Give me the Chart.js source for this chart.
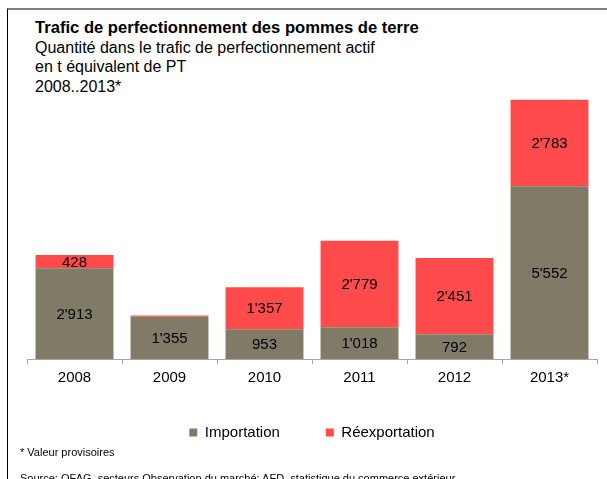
<!DOCTYPE html>
<html>
<head>
<meta charset="utf-8">
<script src="https://cdn.jsdelivr.net/npm/chart.js@4"></script>
<style>
    body { margin: 0; background: #fff; font-family: "Liberation Sans", Arial, sans-serif; }
    #wrap { position: relative; width: 607px; height: 479px; overflow: hidden; }
    #frame { position: absolute; left: 7px; top: 8px; width: 600px; height: 480px;
             border-top: 2px solid #7f7f7f; border-left: 1px solid #000; box-sizing: border-box; }
    #head { position: absolute; left: 35px; top: 18px; font-size: 16px; line-height: 19.5px; color: #000; }
    #head b { font-size: 16.6px; }
    .note { position: absolute; left: 20px; font-size: 11px; color: #000; }
    canvas { position: absolute; left: 0; top: 0; }
</style>
</head>
<body>
<div id="wrap">
    <div id="frame"></div>
    <div id="head">
        <b>Trafic de perfectionnement des pommes de terre</b><br>
        Quantité dans le trafic de perfectionnement actif<br>
        en t équivalent de PT<br>
        2008..2013*
    </div>
    <canvas id="myChart" width="607" height="479"></canvas>
    <div class="note" style="top:446px">* Valeur provisoires</div>
    <div class="note" style="top:472px">Source: OFAG, secteurs Observation du marché; AFD, statistique du commerce extérieur</div>
</div>
<script>
const years = ["2008", "2009", "2010", "2011", "2012", "2013*"];
const importation = [2913, 1355, 953, 1018, 792, 5552];
const reexportation = [428, 45, 1357, 2779, 2451, 2783];

function fmt(n) {
    return String(n).replace(/\B(?=(\d{3})+(?!\d))/g, "'");
}

// labels in the middle of each segment, skipped when the segment is too thin
const segmentLabels = {
    id: "segmentLabels",
    afterDatasetsDraw(chart) {
        const ctx = chart.ctx;
        ctx.save();
        ctx.font = "15px 'Liberation Sans', Arial, sans-serif";
        ctx.fillStyle = "#000";
        ctx.textAlign = "center";
        ctx.textBaseline = "middle";
        chart.data.datasets.forEach((ds, i) => {
            chart.getDatasetMeta(i).data.forEach((bar, j) => {
                if (Math.abs(bar.base - bar.y) < 12) return;
                ctx.fillText(fmt(ds.data[j]), bar.x, (bar.y + bar.base) / 2 + 1);
            });
        });
        ctx.restore();
    },
};

// pull the legend a bit closer to the axis than the layout puts it
const legendShift = {
    id: "legendShift",
    afterLayout(chart) {
        chart.legend.top -= 10;
        chart.legend.bottom -= 10;
    },
};

Chart.defaults.font.family = "'Liberation Sans', Arial, sans-serif";
Chart.defaults.color = "#000";

const data = {
    labels: years,
    datasets: [
        {
            label: "Importation",
            backgroundColor: "#7f7b67",
            data: importation,
        },
        {
            label: "Réexportation",
            backgroundColor: "#ff4b4b",
            data: reexportation,
        },
    ],
};

const config = {
    type: "bar",
    data: data,
    options: {
        responsive: false,
        animation: false,
        layout: { padding: { left: 27, right: 10, top: 79, bottom: 19 } },
        datasets: { bar: { barPercentage: 0.82, categoryPercentage: 1 } },
        scales: {
            x: {
                stacked: true,
                grid: { offset: true, drawOnChartArea: false, tickLength: 5, color: "#a6a6a6" },
                border: { color: "#a6a6a6" },
                ticks: { font: { size: 15 }, padding: 5 },
                afterFit: (scale) => { scale.height = 30; },
            },
            y: {
                stacked: true,
                display: false,
                min: 0,
                max: 9000,
            },
        },
        plugins: {
            legend: {
                position: "bottom",
                labels: { boxWidth: 8, boxHeight: 8, padding: 46, font: { size: 15 } },
            },
            tooltip: { enabled: false },
        },
    },
    plugins: [segmentLabels, legendShift],
};

const myChart = new Chart(document.getElementById("myChart"), config);
</script>
</body>
</html>
